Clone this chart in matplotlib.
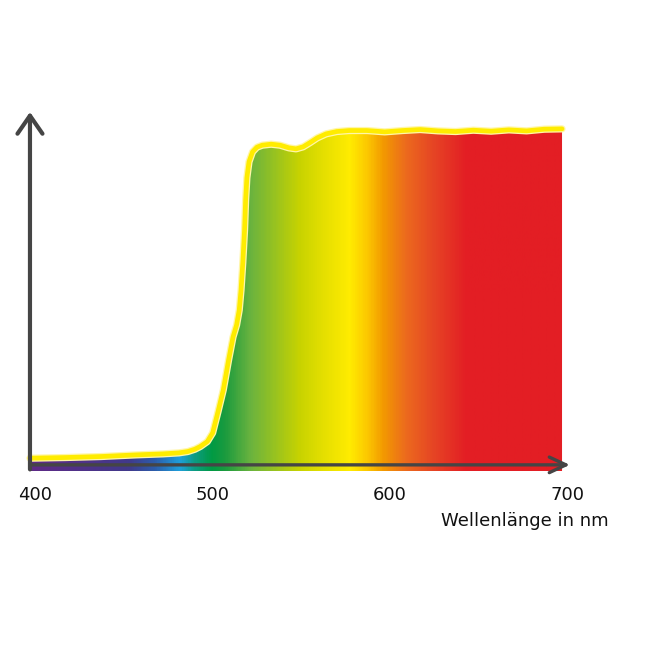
import numpy as np
import matplotlib.pyplot as plt
from matplotlib.colors import LinearSegmentedColormap
from matplotlib.patches import Polygon

# Transmissionskurve (Wellenlänge in nm, relative Transmission)
wavelength = [400, 420, 440, 460, 475, 484, 489, 493, 496, 500, 503, 506, 509, 512,
              514.5, 516.5, 518, 519, 520, 521, 521.6, 522.3, 523.5, 525.5, 528, 531,
              536, 541, 546, 550, 554, 558, 562, 567, 573, 580, 590, 600, 610, 620,
              630, 640, 650, 660, 670, 680, 690, 700]
transmission = [2.0, 2.2, 2.5, 3.0, 3.3, 3.6, 4.0, 4.7, 5.5, 7.0, 9.6, 15.9, 22.5, 31.5,
                38.4, 42.0, 46.5, 52.5, 60.7, 70.6, 79.6, 86.2, 91.0, 94.0, 95.4, 96.0,
                96.3, 96.0, 95.2, 94.9, 95.5, 96.8, 98.2, 99.4, 100.1, 100.4, 100.4, 100.0,
                100.4, 100.7, 100.3, 100.1, 100.5, 100.2, 100.6, 100.3, 100.8, 100.9]

# Spektralfarben entlang der Wellenlänge
color_nm = [400, 455, 470, 484, 492, 502, 510, 524, 552, 566, 580, 590, 599, 612, 627, 646, 700]
color_hex = ['#5e2a86', '#41398b', '#2c5dab', '#1ea0dc', '#0d9c86', '#009a44', '#1c9b3e',
             '#6ab33f', '#c8d300', '#e6e000', '#ffec00', '#fcc800', '#f39a00', '#ec6a1e',
             '#e64624', '#e31e24', '#e31e24']

tick_values = [400, 500, 600, 700]
tick_labels = ['400', '500', '600', '700']
xlabel = 'Wellenlänge in nm'

fig = plt.figure(figsize=(6.5, 6.5), dpi=100)
ax = fig.add_axes([0, 0, 1, 1])
ax.set_xlim(383.1, 749.6)
ax.set_ylim(-55.6, 139.6)
ax.axis('off')

# Farbverlauf, beschnitten auf die Fläche unter der Kurve
bottom = -1.9
pos = [(c - 400) / 300 for c in color_nm]
cmap = LinearSegmentedColormap.from_list('spektrum', list(zip(pos, color_hex)))
grad = np.linspace(0, 1, 600).reshape(1, -1)
img = ax.imshow(grad, cmap=cmap, aspect='auto', extent=[400, 700, bottom, 105],
                origin='lower', zorder=1, interpolation='bilinear')
verts = [(400, bottom)] + list(zip(wavelength, transmission)) + [(700, bottom)]
clip = Polygon(verts, closed=True, transform=ax.transData, facecolor='none', edgecolor='none')
ax.add_patch(clip)
img.set_clip_path(clip)

# gelbe Umrisslinie
ax.plot(wavelength, transmission, color='#fff6a8', lw=5.2, solid_capstyle='round',
        solid_joinstyle='round', zorder=2)
ax.plot(wavelength, transmission, color='#ffec00', lw=3.4, solid_capstyle='round',
        solid_joinstyle='round', zorder=3)

# Achsen als Pfeile
arrow_col = '#454545'
ax.annotate('', xy=(400, 106.8), xytext=(400, -2.2),
            arrowprops=dict(arrowstyle='->,head_length=0.65,head_width=0.45',
                            color=arrow_col, lw=3, mutation_scale=20), zorder=4)
ax.annotate('', xy=(706, 0), xytext=(399, 0),
            arrowprops=dict(arrowstyle='->,head_length=0.6,head_width=0.28',
                            color=arrow_col, lw=2.4, mutation_scale=20), zorder=4)

for v, lab in zip(tick_values, tick_labels):
    ax.text(v + 3, -9, lab, ha='center', va='center', fontsize=13, color='#111111')
ax.text(726, -16.8, xlabel, ha='right', va='center', fontsize=13, color='#111111')

fig.savefig('out.png', dpi=100, facecolor='white')
